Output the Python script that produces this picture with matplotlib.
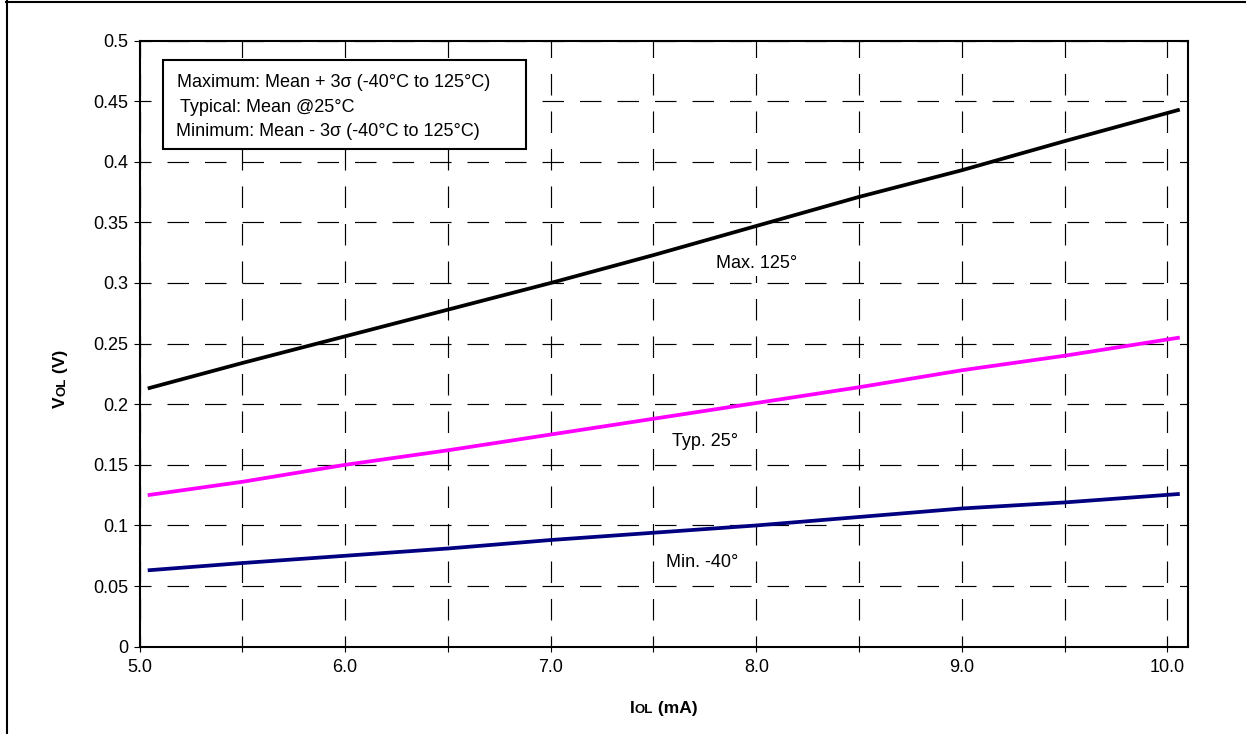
import matplotlib
matplotlib.use("Agg")
import matplotlib.pyplot as plt
from matplotlib.lines import Line2D
from matplotlib.patches import Rectangle
from matplotlib.ticker import FixedLocator

plt.rcParams['font.family'] = ['Liberation Sans', 'DejaVu Sans']
plt.rcParams['lines.scale_dashes'] = False

# ---- data ----
iol = [5.04, 5.5, 6.0, 6.5, 7.0, 7.5, 8.0, 8.5, 9.0, 9.5, 10.06]
vol_max = [0.213, 0.234, 0.256, 0.278, 0.300, 0.323, 0.347, 0.371, 0.393, 0.417, 0.443]
vol_typ = [0.125, 0.136, 0.150, 0.162, 0.175, 0.188, 0.201, 0.214, 0.228, 0.240, 0.255]
vol_min = [0.063, 0.069, 0.075, 0.081, 0.088, 0.094, 0.100, 0.107, 0.114, 0.119, 0.126]
series_names = ["Max. 125°", "Typ. 25°", "Min. -40°"]
series_colors = ["#000000", "#FF00FF", "#000080"]
x_ticks = [5.0, 6.0, 7.0, 8.0, 9.0, 10.0]
x_tick_labels = ["5.0", "6.0", "7.0", "8.0", "9.0", "10.0"]
y_ticks = [0, 0.05, 0.1, 0.15, 0.2, 0.25, 0.3, 0.35, 0.4, 0.45, 0.5]
y_tick_labels = ["0", "0.05", "0.1", "0.15", "0.2", "0.25", "0.3", "0.35", "0.4", "0.45", "0.5"]
legend_lines = ["Maximum: Mean + 3σ (-40°C to 125°C)",
                "Typical: Mean @25°C",
                "Minimum: Mean - 3σ (-40°C to 125°C)"]

W, H = 1246, 734
fig = plt.figure(figsize=(W / 100, H / 100), dpi=100)
fig.patch.set_facecolor("white")

def fx(px):
    return px / W

def fy(py):
    return 1 - py / H

ax_l, ax_r, ax_t, ax_b = 139.5, 1188, 40.5, 646.7
ax = fig.add_axes([fx(ax_l), fy(ax_b), fx(ax_r - ax_l), (ax_b - ax_t) / H])

for ys, c in zip([vol_max, vol_typ, vol_min], series_colors):
    ax.plot(iol, ys, color=c, lw=2.7, solid_capstyle='butt', zorder=3)

ax.set_xlim(5.0, 10.1)
ax.set_ylim(0, 0.5)
ax.xaxis.set_major_locator(FixedLocator(x_ticks))
ax.set_xticklabels(x_tick_labels)
ax.xaxis.set_minor_locator(FixedLocator([5.5, 6.5, 7.5, 8.5, 9.5]))
ax.yaxis.set_major_locator(FixedLocator(y_ticks))
ax.set_yticklabels(y_tick_labels)

dash = (7.56, (15.5, 11.5))
ax.grid(True, which='both', axis='x', color='black', lw=0.85, linestyle=dash, zorder=1)
ax.grid(True, which='major', axis='y', color='black', lw=0.85, linestyle=dash, zorder=1)
ax.set_axisbelow(True)

ax.tick_params(axis='x', which='both', direction='out', length=3.6, width=0.8,
               labelsize=13, pad=5.5, colors='black')
ax.tick_params(axis='y', which='both', direction='out', length=4.3, width=0.8,
               labelsize=13, pad=3.6, colors='black')
for s in ax.spines.values():
    s.set_linewidth(1.5)
    s.set_color('black')

# in-plot series labels
label_pos = [(7.806, 0.3123), (7.592, 0.1654), (7.563, 0.0659)]
for name, (lx, ly) in zip(series_names, label_pos):
    ax.text(lx, ly, name, fontsize=13, ha='left', va='baseline', color='black', zorder=4,
            bbox=dict(facecolor='white', edgecolor='none', pad=3))

# legend-like box
box = Rectangle((fx(162.5), fy(149)), fx(525.5 - 162.5), (149 - 59.5) / H,
                transform=fig.transFigure, facecolor='white', edgecolor='black',
                lw=1.5, zorder=5)
fig.add_artist(box)
leg_x = [177, 180, 176]
leg_base = [87.3, 111.5, 136]
for t, lx, lb in zip(legend_lines, leg_x, leg_base):
    fig.text(fx(lx), fy(lb), t, fontsize=13, ha='left', va='baseline', color='black', zorder=6)

# axis labels with small "OL"
renderer = fig.canvas.get_renderer()

def measure(s, size):
    t = fig.text(0, 0, s, fontsize=size, fontweight='bold')
    w = t.get_window_extent(renderer).width
    t.remove()
    return w

xparts = [("I", 12.5), ("OL", 9.5), (" (mA)", 12.5)]
widths = [measure(s, sz) for s, sz in xparts]
cx = 663.5
x0 = cx - sum(widths) / 2
for (s, sz), w in zip(xparts, widths):
    fig.text(fx(x0), fy(713.3), s, fontsize=sz, fontweight='bold', ha='left', va='baseline')
    x0 += w

yparts = [("V", 12.5), ("OL", 9.5), (" (V)", 12.5)]
widths = [measure(s, sz) for s, sz in yparts]
cy = 379
y0 = cy + sum(widths) / 2
for (s, sz), w in zip(yparts, widths):
    fig.text(fx(65), fy(y0), s, fontsize=sz, fontweight='bold', rotation=90,
             rotation_mode='anchor', ha='left', va='baseline')
    y0 -= w

# outer frame (left and top edges)
fig.add_artist(Line2D([fx(7), fx(7)], [0, fy(1)], transform=fig.transFigure, color='black', lw=1.5))
fig.add_artist(Line2D([fx(6), 1], [fy(2), fy(2)], transform=fig.transFigure, color='black', lw=1.5))

fig.savefig("out.png", dpi=100, facecolor='white')
